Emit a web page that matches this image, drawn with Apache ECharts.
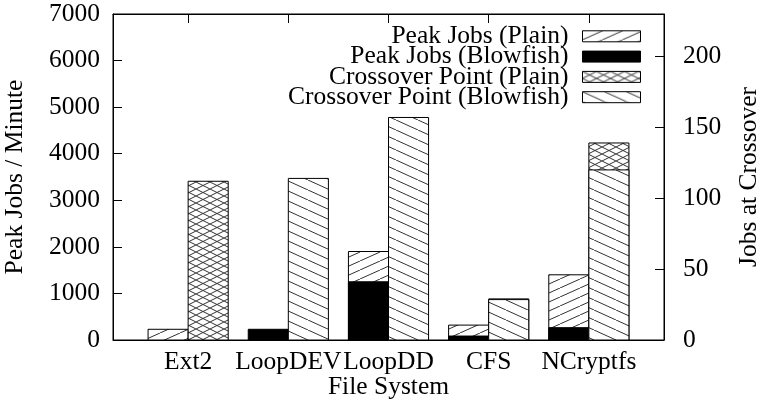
<!DOCTYPE html>
<html>
<head>
<meta charset="utf-8">
<script src="https://cdn.jsdelivr.net/npm/echarts@6/dist/echarts.min.js"></script>
<style>html,body{margin:0;padding:0;background:#fff;overflow:hidden;}#c{width:761px;height:407px;}</style>
</head>
<body>
<div id="c"></div>
<script>
const categories = ['Ext2', 'LoopDEV', 'LoopDD', 'CFS', 'NCryptfs'];
const peakPlain = [230, null, 1900, 320, 1400];
const peakBlowfish = [null, 230, 1250, 85, 265];
const crossPlain = [112, null, null, 29, 139];
const crossBlowfish = [null, 114, 157, 28.5, 120];
const leftTicks = [0, 1000, 2000, 3000, 4000, 5000, 6000, 7000];
const rightTicks = [0, 50, 100, 150, 200];
const catTicks = [0, 1, 2, 3, 4];

const FONT = 'Liberation Serif';
const FS = 25.5;
const LINE = '#333';

function makePattern(w, h, kind) {
  const c = document.createElement('canvas');
  c.width = w; c.height = h;
  const ctx = c.getContext('2d');
  ctx.fillStyle = '#fff';
  ctx.fillRect(0, 0, w, h);
  ctx.strokeStyle = LINE;
  ctx.lineWidth = 1;
  ctx.beginPath();
  if (kind === 'fwd' || kind === 'cross') {
    ctx.moveTo(-w, 2 * h); ctx.lineTo(2 * w, -h);
  }
  if (kind === 'back' || kind === 'cross') {
    ctx.moveTo(-w, -h); ctx.lineTo(2 * w, 2 * h);
  }
  ctx.stroke();
  return { image: c, repeat: 'repeat' };
}

const patFwd = makePattern(20, 9, 'fwd');
const patBack = makePattern(22, 10, 'back');
const patCross = makePattern(14, 7, 'cross');

function toData(arr) {
  const out = [];
  arr.forEach(function (v, i) { if (v !== null) out.push([i, v]); });
  return out;
}

const BAR_W = 0.4;
function makeRender(offset) {
  return function (params, api) {
    const x = api.value(0), v = api.value(1);
    const p0 = api.coord([x + offset, v]);
    const p1 = api.coord([x + offset + BAR_W, 0]);
    return {
      type: 'rect',
      shape: { x: p0[0], y: p0[1], width: p1[0] - p0[0], height: p1[1] - p0[1] },
      style: api.style()
    };
  };
}

function series(name, arr, color, offset, yIdx) {
  return {
    type: 'custom',
    name: name,
    xAxisIndex: 0,
    yAxisIndex: yIdx,
    coordinateSystem: 'cartesian2d',
    renderItem: makeRender(offset),
    encode: { x: 0, y: 1 },
    itemStyle: { color: color, borderColor: '#000', borderWidth: 1 },
    data: toData(arr),
    silent: true
  };
}

const txt = { fontFamily: FONT, fontSize: FS, color: '#000' };
const plain = function (v) { return String(v); };
const axLine = { show: true, onZero: false, lineStyle: { color: '#000', width: 1 } };

const chart = echarts.init(document.getElementById('c'), null, { renderer: 'canvas' });
chart.setOption({
  animation: false,
  backgroundColor: '#fff',
  textStyle: { fontFamily: FONT },
  grid: { left: 113, right: 97, top: 14, bottom: 67, show: true, borderColor: '#000', borderWidth: 1, containLabel: false, outerBoundsMode: 'none' },
  legend: {
    orient: 'vertical',
    align: 'right',
    right: 120,
    top: 23.3,
    padding: 0,
    icon: 'rect',
    itemWidth: 58,
    itemHeight: 11,
    itemGap: -5.7,
    textStyle: Object.assign({}, txt, { padding: [0, 9, 0, 0] }),
    itemStyle: { borderColor: '#000', borderWidth: 1 },
    data: ['Peak Jobs (Plain)', 'Peak Jobs (Blowfish)', 'Crossover Point (Plain)', 'Crossover Point (Blowfish)'],
    selectedMode: false
  },
  xAxis: [{
    type: 'value',
    min: -0.75, max: 4.75,
    position: 'bottom',
    name: 'File System',
    nameLocation: 'middle',
    nameGap: 34,
    nameMoveOverlap: false,
    nameTextStyle: txt,
    axisLine: axLine,
    axisTick: { show: true, inside: true, length: 9, lineStyle: { color: '#000' }, customValues: catTicks },
    axisLabel: Object.assign({}, txt, { margin: 9, customValues: catTicks, formatter: function (v) { return categories[Math.round(v)]; } }),
    splitLine: { show: false }
  }, {
    type: 'value',
    min: -0.75, max: 4.75,
    position: 'top',
    axisLine: axLine,
    axisTick: { show: true, inside: true, length: 9, lineStyle: { color: '#000' }, customValues: catTicks },
    axisLabel: { show: false },
    splitLine: { show: false }
  }],
  yAxis: [{
    type: 'value',
    min: 0, max: 7000, interval: 1000,
    position: 'left',
    name: 'Peak Jobs / Minute',
    nameLocation: 'middle',
    nameGap: 85,
    nameMoveOverlap: false,
    nameTextStyle: txt,
    axisLine: axLine,
    axisTick: { show: true, inside: true, length: 9, lineStyle: { color: '#000' }, customValues: leftTicks },
    axisLabel: Object.assign({}, txt, { margin: 13, customValues: leftTicks, formatter: plain }),
    splitLine: { show: false }
  }, {
    type: 'value',
    min: 0, max: 230,
    position: 'right',
    name: 'Jobs at Crossover',
    nameLocation: 'middle',
    nameGap: 72,
    nameRotate: 90,
    nameMoveOverlap: false,
    nameTextStyle: txt,
    axisLine: axLine,
    axisTick: { show: true, inside: true, length: 9, lineStyle: { color: '#000' }, customValues: rightTicks },
    axisLabel: Object.assign({}, txt, { margin: 19, customValues: rightTicks, formatter: plain }),
    splitLine: { show: false }
  }],
  series: [
    series('Peak Jobs (Plain)', peakPlain, patFwd, -BAR_W, 0),
    series('Peak Jobs (Blowfish)', peakBlowfish, '#000', -BAR_W, 0),
    series('Crossover Point (Plain)', crossPlain, patCross, 0, 1),
    series('Crossover Point (Blowfish)', crossBlowfish, patBack, 0, 1)
  ]
});
</script>
</body>
</html>
